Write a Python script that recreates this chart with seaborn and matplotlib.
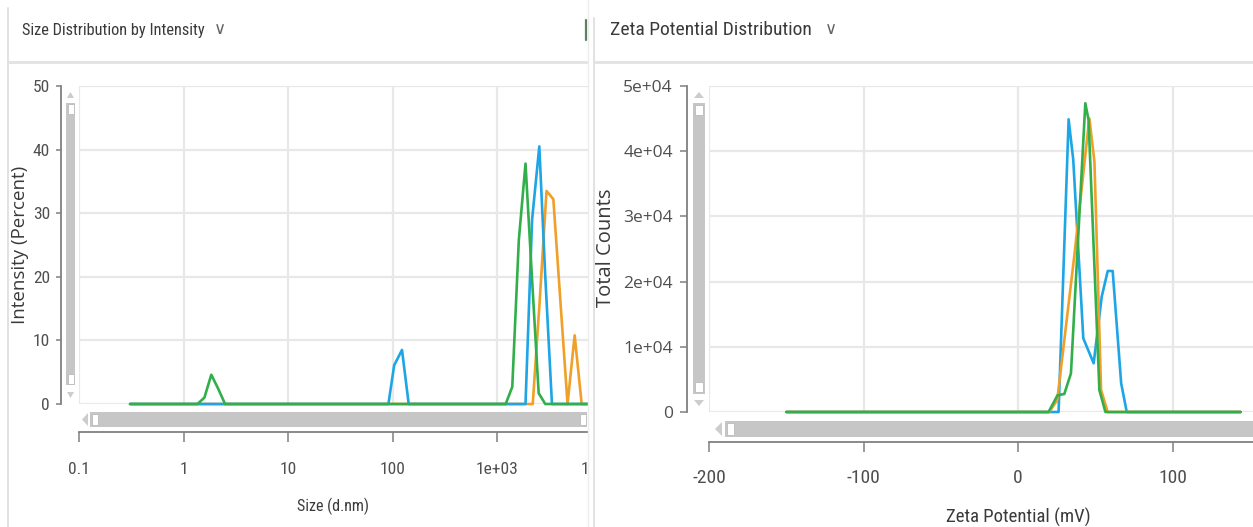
import numpy as np
import pandas as pd
import seaborn as sns
import matplotlib
matplotlib.use("Agg")
import matplotlib.pyplot as plt
from matplotlib import font_manager as fm
from matplotlib.patches import Rectangle, Polygon
from matplotlib.lines import Line2D

# ---------------- data ----------------
# Size distribution by intensity (size in d.nm, intensity in %)
size_green = [0.308, 1.36, 1.585, 1.845, 2.148, 2.50, 1211, 1400, 1618, 1874, 2167, 2505, 2898, 10000]
int_green = [0, 0, 1.0, 4.6, 2.4, 0, 0, 2.7, 25.8, 37.8, 19.5, 1.7, 0, 0]

size_blue = [0.308, 91.4, 103.8, 123.3, 142.9, 1874, 2167, 2540, 2898, 3357, 10000]
int_blue = [0, 0, 6.1, 8.5, 0, 0, 29.0, 40.5, 20.0, 0, 0]

size_orange = [0.308, 2198, 2557, 2978, 3461, 4049, 4732, 5535, 6461, 10000]
int_orange = [0, 0, 16.0, 33.5, 32.2, 16.0, 0, 10.8, 0, 0]

# Zeta potential distribution (mV, total counts)
zeta_blue = [-150, 26.2, 32.7, 35.7, 42.2, 48.9, 54.1, 58.0, 61.2, 66.7, 70.3, 144]
cnt_blue = [0, 0, 44890, 38650, 11300, 7470, 17680, 21630, 21630, 4400, 0, 0]

zeta_orange = [-150, 20.1, 25.3, 36.4, 46.1, 49.4, 53.7, 58.0, 144]
cnt_orange = [0, 0, 1800, 24000, 45040, 38390, 3370, 0, 0]

zeta_green = [-150, 19.7, 25.5, 29.9, 34.2, 43.5, 45.6, 52.6, 56.5, 144]
cnt_green = [0, 0, 2560, 2760, 5930, 47350, 44790, 3370, 0, 0]

size_ticks = [0.1, 1, 10, 100, 1000, 10000]
size_tick_labels = ["0.1", "1", "10", "100", "1e+03", "1e+04"]
int_ticks = [0, 10, 20, 30, 40, 50]
zeta_ticks = [-200, -100, 0, 100]
zeta_tick_labels = ["-200", "-100", "0", "100"]
cnt_ticks = [0, 10000, 20000, 30000, 40000, 50000]
cnt_tick_labels = ["0", "1e+04", "2e+04", "3e+04", "4e+04", "5e+04"]

BLUE = "#1ea5e6"
ORANGE = "#f0a028"
GREEN = "#32af4b"

# ---------------- fonts ----------------
names = {f.name for f in fm.fontManager.ttflist}
NARROW = None
for cand in ["Liberation Sans Narrow", "Roboto Condensed", "Noto Sans Condensed",
             "Open Sans Condensed", "Noto Sans Display Condensed", "Roboto"]:
    if cand in names:
        NARROW = cand
        break
if NARROW is None:
    NARROW = "DejaVu Sans"
NORMAL = "Open Sans" if "Open Sans" in names else "DejaVu Sans"

sns.set_theme(style="white")
plt.rcParams["font.family"] = [NARROW, "DejaVu Sans"]

W, H = 1253, 527
fig = plt.figure(figsize=(W / 100, H / 100), dpi=100)
fig.patch.set_facecolor("white")


def fx(x):
    return x / W


def fy(y):
    return 1 - y / H


def px2pt(p):
    return p * 72 / 100


TXT = "#3a3a3a"
TICK = "#4f4f4f"
SPINE = "#808080"
GRID = "#e8e8e8"
SCROLL = "#c6c6c6"


def add_rect(x0, y0, x1, y1, fc, ec="none", lw=0, z=5):
    fig.patches.append(Rectangle((fx(x0), fy(y1)), fx(x1) - fx(x0), fy(y0) - fy(y1),
                                 transform=fig.transFigure, facecolor=fc, edgecolor=ec,
                                 linewidth=lw, zorder=z))


def add_line(xs, ys, color, lw, z=5):
    fig.lines.append(Line2D([fx(x) for x in xs], [fy(y) for y in ys],
                            transform=fig.transFigure, color=color, linewidth=lw, zorder=z))


def add_tri(pts, color, z=6):
    fig.patches.append(Polygon([(fx(a), fy(b)) for a, b in pts], closed=True,
                               transform=fig.transFigure, facecolor=color,
                               edgecolor="none", zorder=z))


def style_axes(ax, yspine_out, xspine_out, xtick_len, xpad, ytick_len, ypad):
    ax.set_facecolor("white")
    for s in ["top", "right"]:
        ax.spines[s].set_visible(False)
    ax.spines["left"].set_position(("outward", px2pt(yspine_out)))
    ax.spines["bottom"].set_position(("outward", px2pt(xspine_out)))
    for s in ["left", "bottom"]:
        ax.spines[s].set_color(SPINE)
        ax.spines[s].set_linewidth(1.3)
    ax.tick_params(axis="x", which="major", direction="out", length=px2pt(xtick_len),
                   width=1.1, color=SPINE, pad=px2pt(xpad), labelcolor=TICK, bottom=True)
    ax.tick_params(axis="y", which="major", direction="out", length=px2pt(ytick_len),
                   width=1.1, color=SPINE, pad=px2pt(ypad), labelcolor=TICK, left=True)
    ax.tick_params(which="minor", length=0)
    ax.grid(True, color=GRID, linewidth=1.6)
    ax.set_axisbelow(True)


# ---------------- left panel ----------------
axL = fig.add_axes([fx(79), fy(404), fx(601.5) - fx(79), fy(86) - fy(404)], zorder=1)
dfs = []
for name, xs, ys in [("green", size_green, int_green), ("blue", size_blue, int_blue),
                     ("orange", size_orange, int_orange)]:
    dfs.append(pd.DataFrame({"size": xs, "intensity": ys, "run": name}))
dfL = pd.concat(dfs, ignore_index=True)
for name, col in [("orange", ORANGE), ("blue", BLUE), ("green", GREEN)]:
    sub = dfL[dfL["run"] == name]
    sns.lineplot(data=sub, x="size", y="intensity", color=col, linewidth=1.9,
                 estimator=None, sort=False, ax=axL, clip_on=False)
axL.set_xscale("log")
axL.set_xlim(0.1, 10000)
axL.set_ylim(0, 50)
axL.set_xticks(size_ticks)
axL.set_xticklabels(size_tick_labels)
axL.set_yticks(int_ticks)
axL.set_yticklabels([str(t) for t in int_ticks])
axL.xaxis.set_minor_locator(matplotlib.ticker.NullLocator())
style_axes(axL, 18, 28, 10, 20, 5, 6)
for lab in axL.get_xticklabels() + axL.get_yticklabels():
    lab.set_fontsize(12.5)
axL.set_xlabel("Size (d.nm)", fontsize=11.5, color=TXT)
axL.xaxis.set_label_coords((333 - 79) / 522.5, (404 - 506) / 318)
axL.xaxis.label.set_va("center")
axL.set_ylabel("Intensity (Percent)", fontsize=13.5, color=TXT, family=[NORMAL, "DejaVu Sans"])
axL.yaxis.set_label_coords((20 - 79) / 522.5, (404 - 245) / 318)
axL.yaxis.label.set_va("center")

# ---------------- right panel background (covers left overflow) ----------------
bg = fig.add_axes([fx(588), 0, 1 - fx(588), 1], zorder=2)
bg.set_facecolor("white")
bg.set_axis_off()
bg.patch.set_visible(True)
bg.add_patch(Rectangle((0, 0), 1, 1, transform=bg.transAxes, facecolor="white",
                       edgecolor="none"))

# ---------------- right panel ----------------
axR = fig.add_axes([fx(709), fy(412), fx(1253) - fx(709), fy(86) - fy(412)], zorder=3)
dfsR = []
for name, xs, ys in [("green", zeta_green, cnt_green), ("blue", zeta_blue, cnt_blue),
                     ("orange", zeta_orange, cnt_orange)]:
    dfsR.append(pd.DataFrame({"zeta": xs, "counts": ys, "run": name}))
dfR = pd.concat(dfsR, ignore_index=True)
for name, col in [("blue", BLUE), ("orange", ORANGE), ("green", GREEN)]:
    sub = dfR[dfR["run"] == name]
    sns.lineplot(data=sub, x="zeta", y="counts", color=col, linewidth=1.9,
                 estimator=None, sort=False, ax=axR, clip_on=False)
axR.set_xlim(-200, 152)
axR.set_ylim(0, 50000)
axR.set_xticks(zeta_ticks)
axR.set_xticklabels(zeta_tick_labels)
axR.set_yticks(cnt_ticks)
axR.set_yticklabels(cnt_tick_labels)
style_axes(axR, 22, 30, 10, 17, 7, 7)
for lab in axR.get_xticklabels():
    lab.set_fontsize(14)
for lab in axR.get_yticklabels():
    lab.set_fontsize(12.5)
    lab.set_family([NORMAL, "DejaVu Sans"])
axR.set_xlabel("Zeta Potential (mV)", fontsize=13.5, color=TXT)
axR.xaxis.set_label_coords((1018 - 709) / 544, (412 - 517) / 326)
axR.xaxis.label.set_va("center")
axR.set_ylabel("Total Counts", fontsize=14.5, color=TXT, family=[NORMAL, "DejaVu Sans"])
axR.yaxis.set_label_coords((606 - 709) / 544, (412 - 248) / 326)
axR.yaxis.label.set_va("center")

# ---------------- panel chrome ----------------
BORDER = "#e2e2e2"
add_line([8, 8], [8, 527], BORDER, 1.4, z=10)
add_line([8, 587], [62, 62], BORDER, 2.0, z=10)
add_line([594, 594], [18, 527], BORDER, 1.4, z=10)
add_line([594, 1253], [62, 62], BORDER, 2.0, z=10)
add_line([588, 588], [0, 527], "#ececec", 1.0, z=10)
add_line([586, 586], [20, 40], "#5f7f63", 1.6, z=10)

fig.text(fx(22), fy(30), "Size Distribution by Intensity", fontsize=11.8, color=TXT,
         va="center", ha="left", zorder=12)
fig.text(fx(214), fy(29), "∨", fontsize=12, color="#666666", va="center", ha="left",
         family=["DejaVu Sans"], zorder=12)
fig.text(fx(610), fy(30), "Zeta Potential Distribution", fontsize=14, color=TXT,
         va="center", ha="left", zorder=12)
fig.text(fx(825), fy(29), "∨", fontsize=12, color="#666666", va="center", ha="left",
         family=["DejaVu Sans"], zorder=12)

# left vertical scrollbar
add_rect(66, 103, 75, 385, SCROLL, z=8)
add_rect(67.5, 104, 73.5, 114, "white", ec="#bbbbbb", lw=0.6, z=9)
add_rect(67.5, 374, 73.5, 384, "white", ec="#bbbbbb", lw=0.6, z=9)
add_tri([(67, 98), (74, 98), (70.5, 92)], "#cccccc", z=9)
add_tri([(67, 392), (74, 392), (70.5, 398)], "#cccccc", z=9)
# left horizontal scrollbar
add_rect(90, 412, 587, 427, SCROLL, z=8)
add_rect(92, 414, 98, 425, "white", ec="#bbbbbb", lw=0.6, z=9)
add_rect(580, 414, 586, 425, "white", ec="#bbbbbb", lw=0.6, z=9)
add_tri([(88, 413), (88, 426), (82, 419.5)], "#cccccc", z=9)

# right vertical scrollbar
add_rect(693, 103, 705, 394, SCROLL, z=8)
add_rect(694.5, 105, 703.5, 115, "white", ec="#bbbbbb", lw=0.6, z=9)
add_rect(694.5, 382, 703.5, 392, "white", ec="#bbbbbb", lw=0.6, z=9)
add_tri([(694, 98), (704, 98), (699, 92)], "#cccccc", z=9)
add_tri([(694, 400), (704, 400), (699, 406)], "#cccccc", z=9)
# right horizontal scrollbar
add_rect(725, 421, 1253, 437, SCROLL, z=8)
add_rect(727, 423, 734, 435, "white", ec="#bbbbbb", lw=0.6, z=9)
add_tri([(722, 422), (722, 436), (715, 429)], "#cccccc", z=9)

fig.savefig("out.png", dpi=100, facecolor="white")
